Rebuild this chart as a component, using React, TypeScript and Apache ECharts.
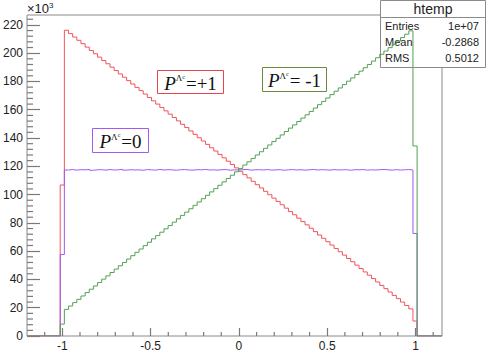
import React, { useEffect, useRef } from "react";
import * as echarts from "echarts";

// Histogram binning (ROOT htemp): 100 bins over [-1.2, 1.15]
const xMin = -1.2;
const xMax = 1.15;
const nBins = 100;
const firstBin = 8; // first non-empty bin index

// bin contents (x10^3), bins 8..93
const redValues = [
  106.8,
  216.2, 213.8, 211.4, 209.1, 206.7, 204.3, 201.9, 199.6, 197.2, 194.8,
  192.5, 190.1, 187.7, 185.3, 183.0, 180.6, 178.2, 175.8, 173.5, 171.1,
  168.7, 166.3, 164.0, 161.6, 159.2, 156.9, 154.5, 152.1, 149.7, 147.4,
  145.0, 142.6, 140.2, 137.9, 135.5, 133.1, 130.8, 128.4, 126.0, 123.6,
  121.3, 118.9, 116.5, 114.1, 111.8, 109.4, 107.0, 104.7, 102.3, 99.9,
  97.5, 95.2, 92.8, 90.4, 88.0, 85.7, 83.3, 80.9, 78.6, 76.2,
  73.8, 71.4, 69.1, 66.7, 64.3, 61.9, 59.6, 57.2, 54.8, 52.5,
  50.1, 47.7, 45.3, 43.0, 40.6, 38.2, 35.8, 33.5, 31.1, 28.7,
  26.4, 24.0, 21.6, 19.2,
  10.6,
];

const greenValues = [
  8.4,
  18.8, 21.2, 23.6, 25.9, 28.3, 30.7, 33.1, 35.4, 37.8, 40.2,
  42.5, 44.9, 47.3, 49.7, 52.0, 54.4, 56.8, 59.2, 61.5, 63.9,
  66.3, 68.7, 71.0, 73.4, 75.8, 78.1, 80.5, 82.9, 85.3, 87.6,
  90.0, 92.4, 94.8, 97.1, 99.5, 101.9, 104.2, 106.6, 109.0, 111.4,
  113.7, 116.1, 118.5, 120.9, 123.2, 125.6, 128.0, 130.3, 132.7, 135.1,
  137.5, 139.8, 142.2, 144.6, 147.0, 149.3, 151.7, 154.1, 156.4, 158.8,
  161.2, 163.6, 165.9, 168.3, 170.7, 173.1, 175.4, 177.8, 180.2, 182.5,
  184.9, 187.3, 189.7, 192.0, 194.4, 196.8, 199.2, 201.5, 203.9, 206.3,
  208.6, 211.0, 213.4, 215.8,
  134.4,
];

const purpleValues = [
  57.6,
  117.4, 117.7, 117.3, 117.6, 117.5, 117.8, 117.2, 117.5, 117.6, 117.3,
  117.7, 117.4, 117.5, 117.9, 117.3, 117.6, 117.4, 117.5, 117.2, 117.7,
  117.5, 117.3, 117.8, 117.4, 117.6, 117.5, 117.2, 117.6, 117.7, 117.4,
  117.3, 117.6, 117.5, 117.8, 117.4, 117.5, 117.3, 117.6, 117.7, 117.2,
  117.5, 117.4, 117.6, 117.8, 117.3, 117.5, 117.6, 117.4, 117.7, 117.3,
  117.5, 117.6, 117.2, 117.5, 117.7, 117.4, 117.6, 117.3, 117.5, 117.8,
  117.4, 117.6, 117.5, 117.3, 117.7, 117.4, 117.5, 117.6, 117.2, 117.6,
  117.5, 117.7, 117.3, 117.5, 117.4, 117.6, 117.8, 117.5, 117.3, 117.6,
  117.4, 117.5, 117.7, 117.4,
  72.5,
];

const yMax = 227;
const xMajorTicks = [-1, -0.5, 0, 0.5, 1];
const xMinorTicks = [-1.1, -0.9, -0.8, -0.7, -0.6, -0.4, -0.3, -0.2, -0.1, 0.1, 0.2, 0.3, 0.4, 0.6, 0.7, 0.8, 0.9, 1.1];
const yMajorTicks = [0, 20, 40, 60, 80, 100, 120, 140, 160, 180, 200, 220];
const yMinorTicks = [4, 8, 12, 16, 24, 28, 32, 36, 44, 48, 52, 56, 64, 68, 72, 76, 84, 88, 92, 96, 104, 108, 112, 116, 124, 128, 132, 136, 144, 148, 152, 156, 164, 168, 172, 176, 184, 188, 192, 196, 204, 208, 212, 216, 224];

const statsLabels = ["Entries", "Mean", "RMS"];
const statsValues = ["1e+07", "-0.2868", "0.5012"];

function histPoints(values: number[]) {
  const w = (xMax - xMin) / nBins;
  const pts: number[][] = [];
  for (let k = 0; k < nBins; k++) {
    const i = k - firstBin;
    const v = i >= 0 && i < values.length ? values[i] : 0;
    pts.push([xMin + k * w, v]);
  }
  pts.push([xMax, 0]);
  return pts;
}

const FONT = "Liberation Sans, Arial, Helvetica, sans-serif";
const SERIF = "Liberation Serif, Times New Roman, serif";
const AXIS_COLOR = "#8a8a8a";
const TICK_COLOR = "#7a7a7a";
const TEXT_COLOR = "#222";

function labelBox(x: number, y: number, w: number, h: number, color: string, tail: string) {
  return {
    type: "group",
    z: 10,
    children: [
      {
        type: "rect",
        z: 10,
        shape: { x, y, width: w, height: h },
        style: { fill: "#fff", stroke: color, lineWidth: 1 },
      },
      {
        type: "text",
        z: 11,
        x: x + w / 2,
        y: y + h / 2 + 1,
        style: {
          text: "{p|P}{l|Λ}{c|c}{t|" + tail + "}",
          align: "center",
          verticalAlign: "middle",
          fill: "#111",
          rich: {
            p: { fontFamily: SERIF, fontStyle: "italic", fontSize: 19, fill: "#111" },
            l: { fontFamily: SERIF, fontSize: 9, verticalAlign: "top", fill: "#111", padding: [0, 0, 8, 0] },
            c: { fontFamily: SERIF, fontSize: 6, verticalAlign: "top", fill: "#111", padding: [0, 1, 5, 0] },
            t: { fontFamily: SERIF, fontSize: 19, fill: "#111" },
          },
        },
      },
    ],
  };
}

export default function App() {
  const ref = useRef<HTMLDivElement>(null);

  useEffect(() => {
    if (!ref.current) return;
    const chart = echarts.init(ref.current, undefined, { renderer: "svg" });

    const statsChildren: any[] = [
      {
        type: "rect",
        z: 1,
        shape: { x: 380.5, y: 0.5, width: 105, height: 67 },
        style: { fill: "#fff", stroke: AXIS_COLOR, lineWidth: 1 },
      },
      {
        type: "line",
        z: 1,
        shape: { x1: 380.5, y1: 17.5, x2: 485.5, y2: 17.5 },
        style: { stroke: AXIS_COLOR, lineWidth: 1 },
      },
      {
        type: "text",
        z: 1,
        x: 433,
        y: 9,
        style: { text: "htemp", fontFamily: FONT, fontSize: 14, fill: TEXT_COLOR, align: "center", verticalAlign: "middle" },
      },
    ];
    statsLabels.forEach((lab, i) => {
      statsChildren.push({
        type: "text",
        z: 1,
        x: 385,
        y: 26 + i * 16,
        style: { text: lab, fontFamily: FONT, fontSize: 11, fill: TEXT_COLOR, align: "left", verticalAlign: "middle" },
      });
      statsChildren.push({
        type: "text",
        z: 1,
        x: 479,
        y: 26 + i * 16,
        style: { text: statsValues[i], fontFamily: FONT, fontSize: 11, fill: TEXT_COLOR, align: "right", verticalAlign: "middle" },
      });
    });

    const option: any = {
      animation: false,
      grid: {
        left: 26,
        right: 44,
        top: 15,
        bottom: 22,
        show: true,
        borderColor: AXIS_COLOR,
        borderWidth: 1,
      },
      xAxis: {
        type: "value",
        min: xMin,
        max: xMax,
        axisLine: { show: false, onZero: false },
        splitLine: { show: false },
        axisTick: { show: true, inside: true, length: 8, customValues: xMajorTicks, lineStyle: { color: TICK_COLOR, width: 1.2 } },
        axisLabel: {
          customValues: xMajorTicks,
          margin: 4,
          fontSize: 12,
          fontFamily: FONT,
          color: TEXT_COLOR,
          formatter: (v: number) => String(Math.round(v * 10) / 10),
        },
      },
      yAxis: {
        type: "value",
        min: 0,
        max: yMax,
        axisLine: { show: false, onZero: false },
        splitLine: { show: false },
        axisTick: { show: true, inside: true, length: 13, customValues: yMajorTicks, lineStyle: { color: TICK_COLOR, width: 1.2 } },
        axisLabel: {
          customValues: yMajorTicks,
          margin: 4,
          fontSize: 12,
          fontFamily: FONT,
          color: TEXT_COLOR,
          formatter: (v: number) => String(Math.round(v)),
        },
      },
      series: [
        {
          type: "custom",
          name: "xMinorTicks",
          coordinateSystem: "cartesian2d",
          xAxisIndex: 0,
          yAxisIndex: 0,
          silent: true,
          clip: false,
          z: 5,
          data: xMinorTicks.map((v) => [v, 0]),
          renderItem: (params: any, api: any) => {
            const p = api.coord([api.value(0), api.value(1)]);
            return {
              type: "line",
              shape: { x1: p[0], y1: p[1], x2: p[0], y2: p[1] - 4 },
              style: { stroke: TICK_COLOR, lineWidth: 1.2 },
            };
          },
        },
        {
          type: "custom",
          name: "yMinorTicks",
          coordinateSystem: "cartesian2d",
          xAxisIndex: 0,
          yAxisIndex: 0,
          silent: true,
          clip: false,
          z: 5,
          data: yMinorTicks.map((v) => [xMin, v]),
          renderItem: (params: any, api: any) => {
            const p = api.coord([api.value(0), api.value(1)]);
            return {
              type: "line",
              shape: { x1: p[0], y1: p[1], x2: p[0] + 6, y2: p[1] },
              style: { stroke: TICK_COLOR, lineWidth: 1.2 },
            };
          },
        },
        {
          type: "line",
          name: "P=+1",
          step: "end",
          showSymbol: false,
          data: histPoints(redValues),
          lineStyle: { color: "#f0555a", width: 1 },
          itemStyle: { color: "#f0555a" },
          z: 2,
        },
        {
          type: "line",
          name: "P=0",
          step: "end",
          showSymbol: false,
          data: histPoints(purpleValues),
          lineStyle: { color: "#a25af0", width: 1 },
          itemStyle: { color: "#a25af0" },
          z: 3,
        },
        {
          type: "line",
          name: "P=-1",
          step: "end",
          showSymbol: false,
          data: histPoints(greenValues),
          lineStyle: { color: "#55a055", width: 1 },
          itemStyle: { color: "#55a055" },
          z: 4,
        },
      ],
      graphic: [
        {
          type: "group",
          z: 1,
          children: statsChildren,
        },
        {
          type: "text",
          z: 5,
          x: 27,
          y: 1,
          style: {
            text: "×10{s|3}",
            fontFamily: FONT,
            fontSize: 13,
            fill: TEXT_COLOR,
            rich: { s: { fontFamily: FONT, fontSize: 8, verticalAlign: "top", fill: TEXT_COLOR, padding: [0, 0, 6, 0] } },
          },
        },
        labelBox(157.5, 70.5, 66, 23, "#e8454a", "=+1"),
        labelBox(262.5, 67.5, 64, 24, "#6b8a3c", "= -1"),
        labelBox(92.5, 128.5, 56, 24, "#a25af0", "=0"),
      ],
    };

    chart.setOption(option);
    return () => chart.dispose();
  }, []);

  return (
    <div
      ref={ref}
      style={{ position: "fixed", left: 0, top: 0, width: 486, height: 358, background: "#fff" }}
    />
  );
}
